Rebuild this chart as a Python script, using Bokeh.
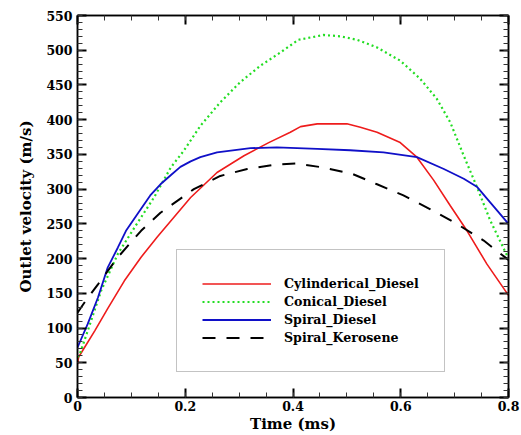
from bokeh.plotting import figure
from bokeh.models import (LinearAxis, FixedTicker, Legend, LegendItem, Range1d)
from bokeh.embed import file_html
from bokeh.resources import INLINE
import numpy as np

# ---- data ----
cyl_t = [0, 0.002, 0.013, 0.032, 0.056, 0.087, 0.118, 0.148, 0.21, 0.259, 0.309, 0.355,
         0.395, 0.414, 0.445, 0.5, 0.525, 0.556, 0.599, 0.630, 0.661, 0.692, 0.723, 0.760, 0.8]
cyl_v = [48, 58, 72, 96, 128, 168, 202, 231, 288, 324, 348, 367,
         382, 390, 394, 394, 389, 382, 367, 346, 313, 276, 240, 192, 147]

con_t = [0, 0.004, 0.019, 0.044, 0.075, 0.106, 0.142, 0.173, 0.197, 0.228, 0.265, 0.302, 0.34,
         0.377, 0.41, 0.457, 0.488, 0.519, 0.556, 0.599, 0.636, 0.667, 0.692, 0.717, 0.742, 0.766, 0.8]
con_v = [58, 62, 96, 154, 207, 245, 288, 331, 355, 391, 425, 454, 478,
         497, 515, 522, 520, 515, 504, 485, 459, 430, 396, 348, 302, 255, 200]

spd_t = [0, 0.019, 0.038, 0.056, 0.075, 0.09, 0.111, 0.135, 0.154, 0.173, 0.191, 0.21, 0.228,
         0.259, 0.321, 0.37, 0.445, 0.506, 0.568, 0.630, 0.68, 0.717, 0.742, 0.766, 0.8]
spd_v = [72, 106, 144, 187, 216, 240, 264, 291, 307, 320, 332, 340, 346,
         353, 359, 360, 358, 356, 353, 346, 329, 315, 303, 281, 250]

spk_t = [0, 0.015, 0.038, 0.075, 0.118, 0.154, 0.216, 0.265, 0.315, 0.364, 0.407, 0.457,
         0.510, 0.556, 0.605, 0.655, 0.704, 0.754, 0.8]
spk_v = [122, 139, 163, 202, 240, 266, 300, 319, 329, 335, 337, 331,
         322, 307, 291, 271, 250, 226, 198]

labels = ["Cylinderical_Diesel", "Conical_Diesel", "Spiral_Diesel", "Spiral_Kerosene"]
x_major = [0, 0.2, 0.4, 0.6, 0.8]
x_tick_labels = ["0", "0.2", "0.4", "0.6", "0.8"]
y_major = list(range(0, 551, 50))

FONT = "DejaVu Serif"

p = figure(width=521, height=435, output_backend="svg", toolbar_location=None,
           x_range=Range1d(0, 0.8), y_range=Range1d(0, 550),
           min_border_left=77, min_border_right=13, min_border_top=15, min_border_bottom=38,
           x_axis_label="Time (ms)", y_axis_label="Outlet velocity (m/s)")
p.xgrid.visible = False
p.ygrid.visible = False
p.outline_line_color = "black"
p.outline_line_width = 1.5
p.background_fill_color = "white"
p.border_fill_color = "white"

x_minor = list(np.round(np.arange(0, 0.8001, 0.05), 3))
y_minor = list(range(0, 551, 10))
xt = FixedTicker(ticks=x_major, minor_ticks=x_minor)
yt = FixedTicker(ticks=y_major, minor_ticks=y_minor)

def style_axis(ax, show_labels):
    ax.axis_line_color = "black"
    ax.axis_line_width = 1.5
    ax.major_tick_in = 9
    ax.major_tick_out = 0
    ax.minor_tick_in = 5
    ax.minor_tick_out = 0
    ax.major_tick_line_width = 2
    ax.minor_tick_line_width = 1
    ax.major_tick_line_color = "black"
    ax.minor_tick_line_color = "#333333"
    ax.major_label_text_font = FONT
    ax.major_label_text_font_style = "bold"
    ax.major_label_text_font_size = "12.5px" if show_labels else "0px"
    ax.major_label_text_color = "black" if show_labels else None
    ax.major_label_standoff = 5
    ax.axis_label_text_font = FONT
    ax.axis_label_text_font_style = "bold"
    ax.axis_label_text_font_size = "15px"
    ax.axis_label_text_color = "black"
    ax.axis_label_standoff = 3

xa = p.xaxis[0]
ya = p.yaxis[0]
xa.ticker = xt
ya.ticker = yt
xa.major_label_overrides = {v: s for v, s in zip(x_major, x_tick_labels)}
style_axis(xa, True)
style_axis(ya, True)
xa.major_label_standoff = 3
xa.axis_label_standoff = 1
ya.axis_label_standoff = 8

top = LinearAxis(ticker=xt)
right = LinearAxis(ticker=yt)
style_axis(top, False)
style_axis(right, False)
p.add_layout(top, "above")
p.add_layout(right, "right")

r1 = p.line(cyl_t, cyl_v, line_color="#ee1c1c", line_width=1.6)
r2 = p.line(con_t, con_v, line_color="#22dd22", line_width=2.2, line_dash="2 3")
r3 = p.line(spd_t, spd_v, line_color="#1010c8", line_width=1.8)
r4 = p.line(spk_t, spk_v, line_color="black", line_width=2, line_dash="13 11")

legend = Legend(items=[LegendItem(label=l, renderers=[r]) for l, r in zip(labels, [r1, r2, r3, r4])],
                location=(99, 25))
legend.label_text_font = FONT
legend.label_text_font_style = "bold"
legend.label_text_font_size = "12.6px"
legend.label_text_color = "black"
legend.glyph_width = 69
legend.glyph_height = 17
legend.label_height = 17
legend.spacing = 1
legend.label_standoff = 13
legend.padding = 25
legend.margin = 0
legend.border_line_color = "#888888"
legend.border_line_width = 1
legend.background_fill_color = "white"
legend.background_fill_alpha = 1
p.add_layout(legend, "center")

open("out.html", "w").write(file_html(p, INLINE))
